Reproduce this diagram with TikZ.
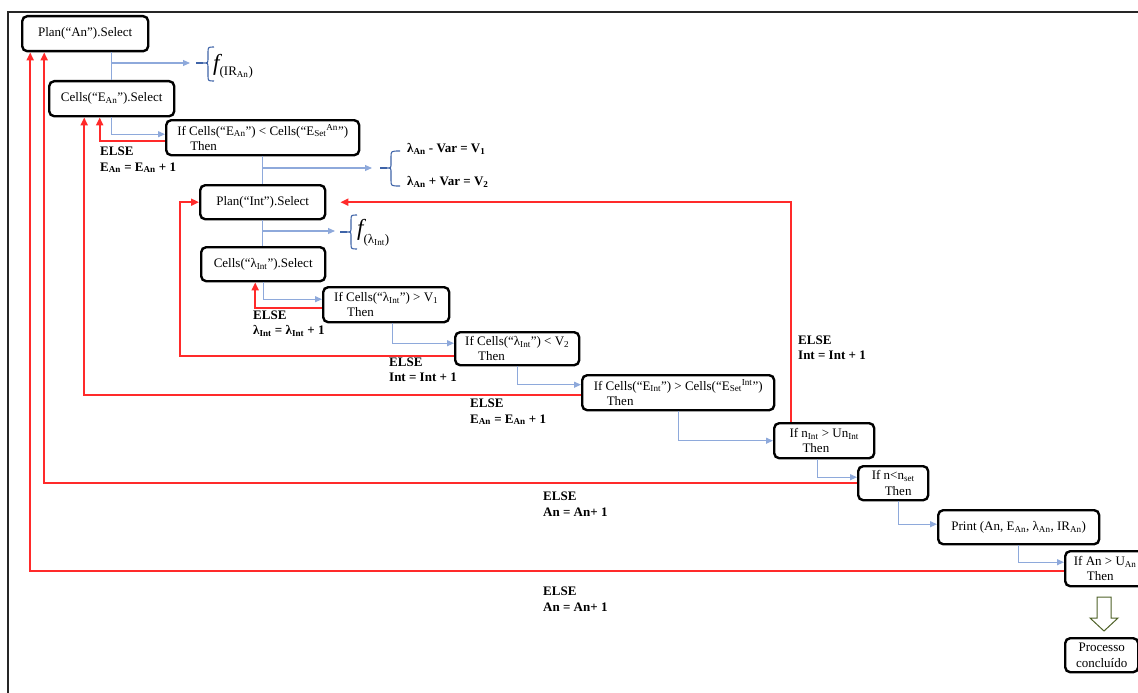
\documentclass[tikz,border=0pt]{standalone}
\usepackage{fontspec}
\setmainfont{Liberation Serif}
\usetikzlibrary{arrows.meta,calc}
\definecolor{bl}{HTML}{8EA9DB}
\definecolor{rd}{HTML}{FF2A2A}
\definecolor{brc}{HTML}{3F64A8}
\definecolor{olv}{HTML}{4F6228}
\begin{document}
\begin{tikzpicture}[x=1pt,y=-1pt,
 box/.style={draw=black, line width=2.4pt, rounded corners=5pt, fill=white, anchor=north west, inner sep=0pt, align=left, font=\fontsize{13}{15.5}\selectfont},
 bplain/.style={draw=bl, line width=1.1pt},
 bline/.style={draw=bl, line width=1.1pt, -{Triangle[length=7pt,width=6pt]}},
 rline/.style={draw=rd, line width=1.8pt, -{Triangle[length=8pt,width=7pt]}},
 lbl/.style={font=\fontsize{13}{15.5}\selectfont\bfseries, align=left, anchor=west, inner sep=0pt},
 bracestyle/.style={draw=brc, line width=1.1pt}
]
\useasboundingbox (0,0) rectangle (1138,693);
\clip (0,0) rectangle (1138,693);
\draw[line width=2pt, draw=black!85] (8,700) -- (8,12) -- (1145,12);

% boxes
\node[box, minimum width=126pt, minimum height=35pt] (planAn) at (21,15) {Plan(“An”).Select};
\node[box, minimum width=125pt, minimum height=35pt] (cellsEAn) at (48,80) {Cells(“E\textsubscript{An}”).Select};
\node[box, minimum width=193pt, minimum height=35pt] (if1) at (165,119) {If Cells(“E\textsubscript{An}”) < Cells(“E\textsubscript{Set}\textsuperscript{An}”)\\\hspace{1em}Then};
\node[box, minimum width=125pt, minimum height=34pt] (planInt) at (199,184) {Plan(“Int”).Select};
\node[box, minimum width=124pt, minimum height=34pt] (cellsL) at (200,246) {Cells(“λ\textsubscript{Int}”).Select};
\node[box, minimum width=126pt, minimum height=35pt] (if2) at (322,286) {If Cells(“λ\textsubscript{Int}”) > V\textsubscript{1}\\\hspace{1em}Then};
\node[box, minimum width=124pt, minimum height=33pt] (if3) at (454,331) {If Cells(“λ\textsubscript{Int}”) < V\textsubscript{2}\\\hspace{1em}Then};
\node[box, minimum width=192pt, minimum height=35pt] (if4) at (581,374) {If Cells(“E\textsubscript{Int}”) > Cells(“E\textsubscript{Set}\textsuperscript{Int}”)\\\hspace{1em}Then};
\node[box, minimum width=100pt, minimum height=35pt] (if5) at (773,422) {If n\textsubscript{Int} > Un\textsubscript{Int}\\\hspace{1em}Then};
\node[box, minimum width=70pt, minimum height=34pt] (if6) at (857,465) {If n<n\textsubscript{set}\\\hspace{1em}Then};
\node[box, minimum width=161pt, minimum height=34pt] (print) at (937,509) {Print (An, E\textsubscript{An}, λ\textsubscript{An}, IR\textsubscript{An})};
\node[box, minimum width=80pt, minimum height=35pt] (if7) at (1064,550) {If An > U\textsubscript{An}\\\hspace{1em}Then};
\node[box, minimum width=73pt, minimum height=34pt, align=center] (proc) at (1064,637) {Processo\\concluído};

% blue connectors
\coordinate (b1) at (190,63);
\coordinate (b2) at (372,168);
\coordinate (b3) at (335,231);
\draw[bplain] (cellsEAn.north |- planAn.south) -- (cellsEAn.north);
\draw[bline] (cellsEAn.north |- b1) -- (b1);
\draw[bline] (cellsEAn.south) |- ([yshift=3.5pt]if1.west);
\draw[bplain] (if1.south) -- (if1.south |- planInt.north);
\draw[bline] (if1.south |- b2) -- (b2);
\draw[bplain] (planInt.south) -- (planInt.south |- cellsL.north);
\draw[bline] (planInt.south |- b3) -- (b3);
\draw[bline] (cellsL.south) |- ([yshift=5.5pt]if2.west);
\draw[bline] ([xshift=6pt]if2.south) |- ([yshift=5.5pt]if3.west);
\draw[bline] (if3.south) |- ([yshift=8pt]if4.west);
\draw[bline] (if4.south) |- (if5.west);
\draw[bline] ([xshift=-7pt]if5.south) |- ([yshift=6pt]if6.west);
\draw[bline] ([xshift=5pt]if6.south) |- ([yshift=3pt]print.west);
\draw[bline] (print.south) |- ([yshift=6.5pt]if7.west);

% red connectors
\draw[rline] ([yshift=-3.5pt]if1.west) -| ([xshift=-12pt]cellsEAn.south);
\draw[rline] ([yshift=-3.5pt]if2.west) -| ([xshift=-8pt]cellsL.south);
\draw[rline] ([yshift=-7.5pt]if3.west) -| ([xshift=-19pt]planInt.west) -- (planInt.west);
\draw[rline] ([yshift=-2.5pt]if4.west) -| ([xshift=-27.5pt]cellsEAn.south);
\draw[rline] ([xshift=-33pt]if5.north) |- ([xshift=14pt]planInt.east);
\draw[rline] (if6.west) -| ([xshift=-41pt]planAn.south);
\draw[rline] ([yshift=-2.5pt]if7.west) -| ([xshift=-55pt]planAn.south);

% block arrow
\draw[olv, line width=1pt, fill=white] (1097,597) -- (1111,597) -- (1111,618) -- (1118,618) -- (1104,631) -- (1090,618) -- (1097,618) -- cycle;

% braces
\draw[bracestyle, line width=2pt] (196,63) -- (203,63);
\draw[bracestyle] (214,47) .. controls (208,47) .. (208,53) -- (208,58) .. controls (208,63) .. (203,63) .. controls (208,63) .. (208,68) -- (208,75) .. controls (208,81) .. (214,81);
\draw[bracestyle, line width=2pt] (380,168) -- (387,168);
\draw[bracestyle] (400,151) .. controls (391,151) .. (391,157) -- (391,163) .. controls (391,168) .. (387,168) .. controls (391,168) .. (391,173) -- (391,180) .. controls (391,186) .. (400,186);
\draw[bracestyle, line width=2pt] (340,232) -- (347,232);
\draw[bracestyle] (357,215) .. controls (351,215) .. (351,221) -- (351,227) .. controls (351,232) .. (347,232) .. controls (351,232) .. (351,237) -- (351,243) .. controls (351,249) .. (357,249);

% formula texts
\node[anchor=west, inner sep=0pt] (fIR) at (213,66) {{\fontsize{23}{23}\selectfont\itshape f}\raisebox{-5pt}{\fontsize{13}{13}\selectfont(IR\textsubscript{An})}};
\node[anchor=west, inner sep=0pt] (fL) at (357,233) {{\fontsize{23}{23}\selectfont\itshape f}\raisebox{-8pt}{\fontsize{13}{13}\selectfont(λ\textsubscript{Int})}};
\node[lbl] (v1) at (407,149) {λ\textsubscript{An} - Var = V\textsubscript{1}};
\node[lbl] (v2) at (407,182) {λ\textsubscript{An} + Var = V\textsubscript{2}};

% ELSE labels
\node[lbl] (e1) at (100,160) {ELSE\\E\textsubscript{An} = E\textsubscript{An} + 1};
\node[lbl] (e2) at (253,323.5) {ELSE\\λ\textsubscript{Int} = λ\textsubscript{Int} + 1};
\node[lbl] (e3) at (389,370) {ELSE\\Int = Int + 1};
\node[lbl] (e4) at (470,412) {ELSE\\E\textsubscript{An} = E\textsubscript{An} + 1};
\node[lbl] (e5) at (798,348) {ELSE\\Int = Int + 1};
\node[lbl] (e6) at (543,504) {ELSE\\An = An+ 1};
\node[lbl] (e7) at (543,599) {ELSE\\An = An+ 1};
\end{tikzpicture}
\end{document}
